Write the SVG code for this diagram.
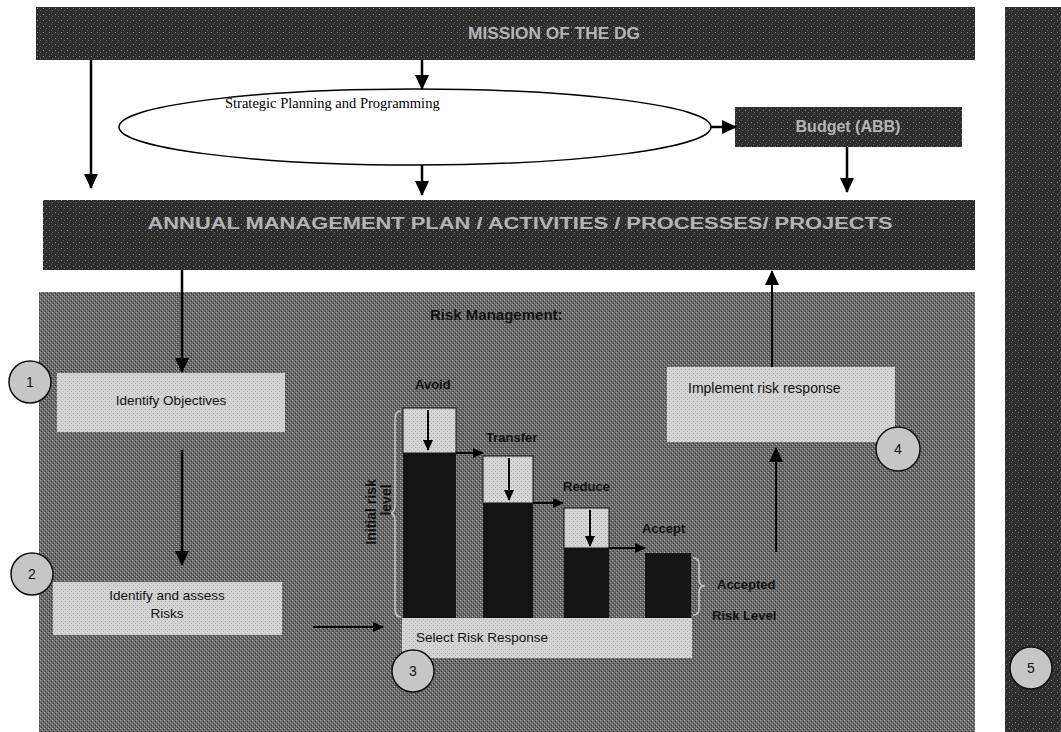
<svg xmlns="http://www.w3.org/2000/svg" width="1061" height="732" viewBox="0 0 1061 732">
<defs>
<marker id="ah" markerUnits="userSpaceOnUse" markerWidth="16" markerHeight="16" refX="14" refY="8" orient="auto"><path d="M0,1 L15,8 L0,15 Z" fill="#000"/></marker>
<marker id="ahs" markerUnits="userSpaceOnUse" markerWidth="12" markerHeight="12" refX="10" refY="6" orient="auto"><path d="M0,1 L11,6 L0,11 Z" fill="#000"/></marker>
<pattern id="noiseD" width="6" height="6" patternUnits="userSpaceOnUse"><rect width="6" height="6" fill="#2e2e2e"/><rect x="1" y="2" width="1" height="1" fill="#8a8a8a"/><rect x="4" y="4" width="1" height="1" fill="#6a6a6a"/><rect x="3" y="0" width="1" height="1" fill="#555"/></pattern>
<pattern id="noiseM" width="4" height="4" patternUnits="userSpaceOnUse"><rect width="4" height="4" fill="#6a6a6a"/><rect x="0" y="0" width="1" height="1" fill="#b0b0b0"/><rect x="2" y="2" width="1" height="1" fill="#a0a0a0"/><rect x="3" y="1" width="1" height="1" fill="#333"/><rect x="1" y="3" width="1" height="1" fill="#3c3c3c"/></pattern>
<pattern id="noiseL" width="4" height="4" patternUnits="userSpaceOnUse"><rect width="4" height="4" fill="#d4d4d4"/><rect x="1" y="1" width="1" height="1" fill="#a8a8a8"/><rect x="3" y="3" width="1" height="1" fill="#b4b4b4"/></pattern>
</defs>
<style>
.dark{fill:url(#noiseD)}
.light{fill:url(#noiseL)}
.blk{fill:#141414}
.ln{stroke:#000;stroke-width:2.5;fill:none}
.lns{stroke:#000;stroke-width:2;fill:none}
.t{font-family:"Liberation Sans",Arial,sans-serif;fill:#111}
.b{font-weight:bold}
.inv{font-family:"Liberation Sans",Arial,sans-serif;fill:#b4b4b4;font-size:16px;font-weight:bold}
.circ{fill:#c6c6c6;stroke:#111;stroke-width:1.5}
.br{fill:none;stroke:#c8c8c8;stroke-width:1.5}
</style>
<rect width="1061" height="732" fill="#fff"/>

<g id="mission"><rect class="dark" x="36" y="7" width="939" height="53"/><text class="inv" x="554" y="39" text-anchor="middle" textLength="172" lengthAdjust="spacingAndGlyphs">MISSION OF THE DG</text></g>

<g id="strategic"><ellipse cx="415" cy="127" rx="296" ry="38" fill="#fff" stroke="#000" stroke-width="1.5"/><text x="225" y="108" font-family="Liberation Serif,'Times New Roman',serif" font-size="14.5" fill="#000">Strategic Planning and Programming</text></g>

<g id="budget"><rect class="dark" x="735" y="107" width="227" height="40"/><text class="inv" x="848" y="132" text-anchor="middle" font-size="14">Budget (ABB)</text></g>

<g id="annual"><rect class="dark" x="43" y="200" width="932" height="70"/><text class="inv" x="520" y="229" text-anchor="middle" textLength="745" lengthAdjust="spacingAndGlyphs">ANNUAL MANAGEMENT PLAN / ACTIVITIES / PROCESSES/ PROJECTS</text></g>

<g id="sidebar"><rect class="dark" x="1005" y="7" width="56" height="725"/><circle class="circ" cx="1031" cy="668" r="21"/><text class="t" x="1031" y="673" text-anchor="middle" font-size="14">5</text></g>

<g id="risk-panel"><rect x="39" y="292" width="936" height="440" fill="url(#noiseM)"/><text class="t b" x="430" y="320" font-size="15">Risk   Management:</text></g>

<g id="step1"><rect class="light" x="57" y="373" width="228" height="59"/><text class="t" x="171" y="405" text-anchor="middle" font-size="13.5">Identify Objectives</text><circle class="circ" cx="30" cy="382" r="21"/><text class="t" x="30" y="387" text-anchor="middle" font-size="14">1</text></g>

<g id="step2"><rect class="light" x="53" y="582" width="229" height="53"/><text class="t" x="167" y="600" text-anchor="middle" font-size="13.5">Identify and assess</text><text class="t" x="167" y="618" text-anchor="middle" font-size="13.5">Risks</text><circle class="circ" cx="32" cy="574" r="21"/><text class="t" x="32" y="579" text-anchor="middle" font-size="14">2</text></g>

<g id="step3"><rect class="light" x="402" y="618" width="290" height="40"/><text class="t" x="416" y="642" font-size="13.5">Select Risk Response</text><circle class="circ" cx="413" cy="671" r="21"/><text class="t" x="413" y="676" text-anchor="middle" font-size="14">3</text></g>

<g id="chart">
<rect class="light" x="403" y="408" width="53" height="45" stroke="#111" stroke-width="1"/><rect class="blk" x="403" y="453" width="53" height="165"/>
<rect class="light" x="483" y="456" width="50" height="47" stroke="#111" stroke-width="1"/><rect class="blk" x="483" y="503" width="50" height="115"/>
<rect class="light" x="564" y="508" width="45" height="40" stroke="#111" stroke-width="1"/><rect class="blk" x="564" y="548" width="45" height="70"/>
<rect class="blk" x="645" y="553" width="46" height="65"/>
<path class="br" d="M401,411 Q395,411 395,419 L395,506 Q395,513 389,513 Q395,513 395,520 L395,609 Q395,617 401,617"/>
<path class="br" d="M693,558 Q699,558 699,564 L699,580 Q699,586 705,586 Q699,586 699,592 L699,609 Q699,615 693,615"/>
<text class="t b" x="415" y="389" font-size="13">Avoid</text>
<text class="t b" x="486" y="442" font-size="13">Transfer</text>
<text class="t b" x="563" y="491" font-size="13">Reduce</text>
<text class="t b" x="642" y="533" font-size="13">Accept</text>
<text class="t b" x="717" y="589" font-size="13">Accepted</text>
<text class="t b" x="712" y="620" font-size="13">Risk   Level</text>
<text class="t b" font-size="14" text-anchor="middle" transform="translate(376,512) rotate(-90)">Initial risk</text>
<text class="t b" font-size="14" text-anchor="middle" transform="translate(391,500) rotate(-90)">level</text>
</g>

<g id="step4"><rect class="light" x="667" y="367" width="228" height="75"/><text class="t" x="688" y="393" font-size="14">Implement risk response</text><circle class="circ" cx="898" cy="449" r="22"/><text class="t" x="898" y="454" text-anchor="middle" font-size="14">4</text></g>

<g id="connectors">
<path class="ln" d="M91,60 V188" marker-end="url(#ah)"/>
<path class="ln" d="M422,60 V89" marker-end="url(#ah)"/>
<path class="ln" d="M422,165 V195" marker-end="url(#ah)"/>
<path class="ln" d="M711,127 H736" marker-end="url(#ah)"/>
<path class="ln" d="M847,147 V192" marker-end="url(#ah)"/>
<path class="ln" d="M182,270 V372" marker-end="url(#ah)"/>
<path class="ln" d="M182,450 V565" marker-end="url(#ah)"/>
<path class="lns" d="M313,627 H383" marker-end="url(#ahs)"/>
<path class="lns" d="M776,552 V448" marker-end="url(#ah)"/>
<path class="lns" d="M772,367 V271" marker-end="url(#ah)"/>
<path class="lns" d="M428,410 V450" marker-end="url(#ahs)"/>
<path class="lns" d="M456,453 H483" marker-end="url(#ahs)"/>
<path class="lns" d="M509,458 V500" marker-end="url(#ahs)"/>
<path class="lns" d="M533,503 H563" marker-end="url(#ahs)"/>
<path class="lns" d="M590,510 V546" marker-end="url(#ahs)"/>
<path class="lns" d="M609,548 H645" marker-end="url(#ahs)"/>
</g>
</svg>
